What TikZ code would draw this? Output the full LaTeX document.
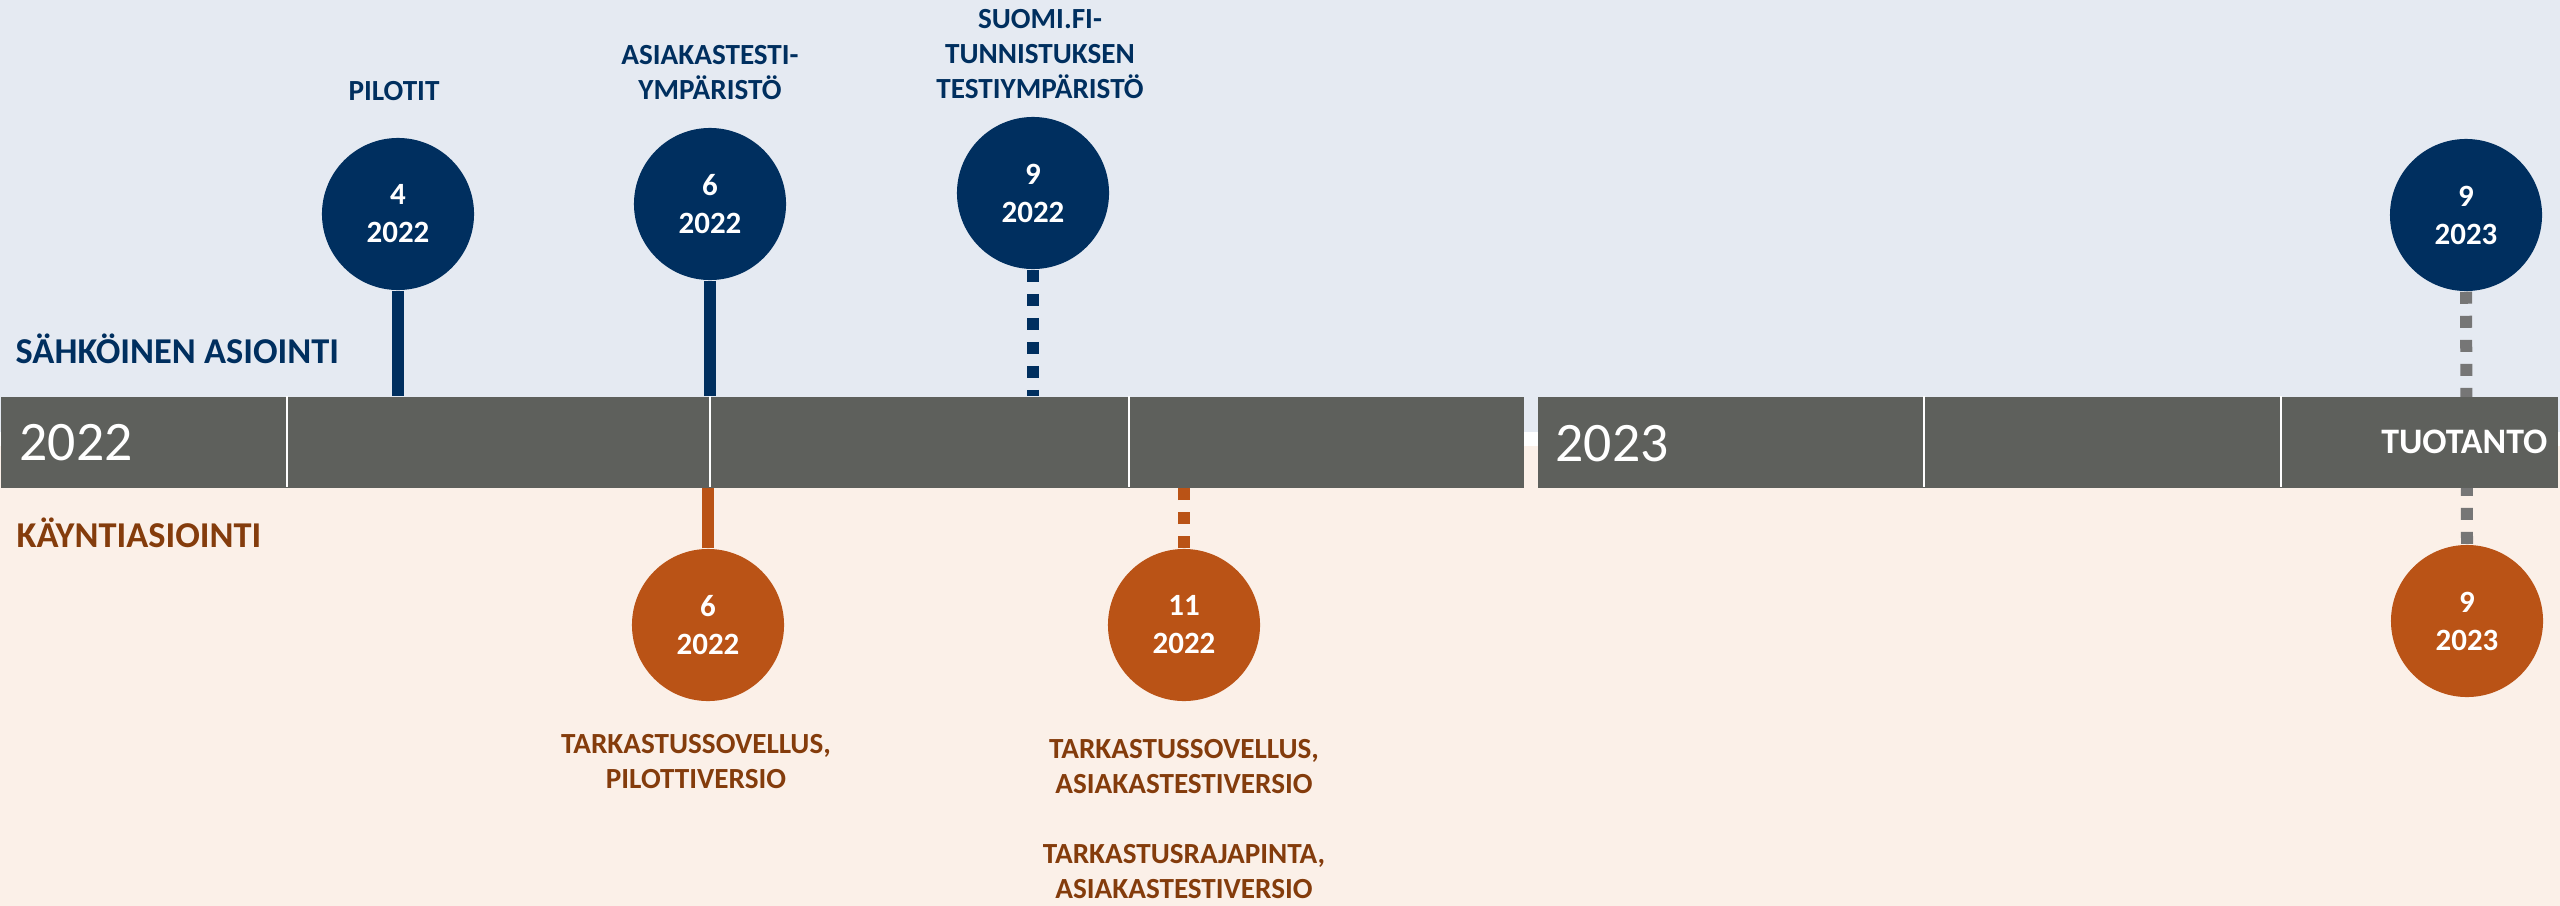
\documentclass[tikz,border=0pt]{standalone}
\usepackage{fontspec}
\setmainfont{Carlito}
\definecolor{navy}{HTML}{002F5F}
\definecolor{orng}{HTML}{BA5316}
\definecolor{brn}{HTML}{843C0C}
\definecolor{bargray}{HTML}{5E605C}
\definecolor{stemgray}{HTML}{767676}
\definecolor{topbg}{HTML}{E5EAF2}
\definecolor{botbg}{HTML}{FBF0E8}
\begin{document}
\begin{tikzpicture}[x=0.01cm,y=-0.01cm,
  topcirc/.style={circle, fill=navy, minimum size=1.52cm, inner sep=0pt, text=white,
    font=\bfseries\fontsize{8.8}{10.8}\selectfont, align=center},
  botcirc/.style={topcirc, fill=orng},
  toplabel/.style={anchor=south, text=navy, inner sep=0pt, align=center,
    font=\bfseries\fontsize{8.3}{9.9}\selectfont},
  botlabel/.style={toplabel, text=brn},
  section/.style={anchor=base west, inner sep=0pt, font=\bfseries\fontsize{10.35}{12}\selectfont},
  yearlbl/.style={anchor=base west, inner sep=0pt, text=white, font=\fontsize{15.85}{18}\selectfont},
  barseg/.style={fill=bargray, inner sep=0pt, anchor=north west, minimum height=0.91cm},
  divider/.style={white, line width=0.6pt},
  stem/.style={line width=0.12cm},
  dstem/.style={stem, dash pattern=on 0.12cm off 0.12cm}
]
\useasboundingbox (0,0) rectangle (2560,906);
% backgrounds
\fill[white] (0,0) rectangle (2560,906);
\fill[topbg] (0,0) rectangle (2560,432);
\fill[botbg] (0,446) rectangle (2560,906);

% circles
\node[topcirc] (t1) at (398,214) {4\\2022};
\node[topcirc] (t2) at (710,204) {6\\2022};
\node[topcirc] (t3) at (1033,193) {9\\2022};
\node[topcirc] (t4) at (2466,215) {9\\2023};
\node[botcirc] (b1) at (708,625) {6\\2022};
\node[botcirc] (b2) at (1184,625) {11\\2022};
\node[botcirc] (b3) at (2467,621) {9\\2023};

% gray dashed connector (passes behind the bar)
\draw[dstem, stemgray] (t4.south) -- (b3.north);

% bar
\node[barseg, minimum width=15.22cm] (barL) at (0,396) {};
\node[barseg, minimum width=10.20cm] (barR) at (1537,396) {};
\foreach \xx in {287,710,1129}
  \draw[divider] (\xx,396) -- (\xx,487);
\foreach \xx in {1924,2281}
  \draw[divider] (\xx,396) -- (\xx,487);

% stems
\draw[stem, navy] (t1.south) -- (t1.south |- barL.north);
\draw[stem, navy] (t2.south) -- (t2.south |- barL.north);
\draw[dstem, navy] (t3.south) -- (t3.south |- barL.north);
\draw[stem, orng] (b1.north) -- (b1.north |- barL.south);
\draw[dstem, orng] (b2.north) -- (b2.north |- barL.south);

% bar texts
\node[yearlbl] (y22) at (19,460) {2022};
\node[yearlbl] (y23) at (1555,461) {2023};
\node[anchor=base east, inner sep=0pt, text=white, font=\bfseries\fontsize{10.2}{12}\selectfont] (tuot) at (2548,453) {TUOTANTO};

% section labels
\node[section, text=navy] (sa) at (15,363) {SÄHKÖINEN ASIOINTI};
\node[section, text=brn] (ka) at (16,547) {KÄYNTIASIOINTI};

% top labels (anchored at the baseline of the last line)
\node[toplabel] (l1) at (394,101) {PILOTIT};
\node[toplabel] (l2) at (710,100) {ASIAKASTESTI-\\YMPÄRISTÖ};
\node[toplabel] (l3) at (1040,99) {SUOMI.FI-\\TUNNISTUKSEN\\TESTIYMPÄRISTÖ};

% bottom labels
\node[botlabel] (m1) at (696,789) {TARKASTUSSOVELLUS,\\PILOTTIVERSIO};
\node[botlabel] (m2) at (1184,899) {TARKASTUSSOVELLUS,\\ASIAKASTESTIVERSIO\\[9.9pt]TARKASTUSRAJAPINTA,\\ASIAKASTESTIVERSIO};
\end{tikzpicture}
\end{document}
